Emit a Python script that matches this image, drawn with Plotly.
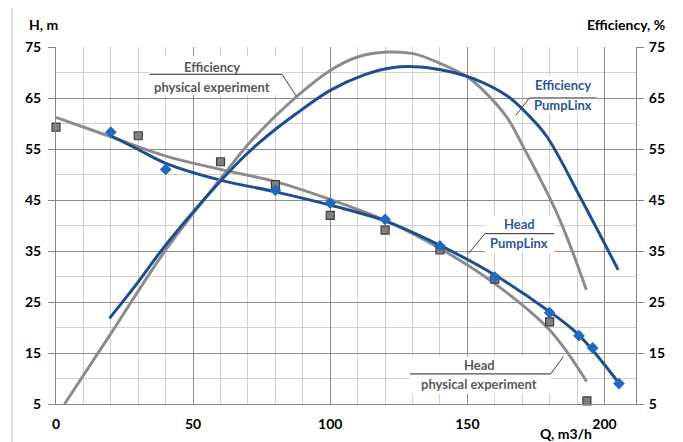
import plotly.graph_objects as go

# ---------------- data ----------------
# Head, physical experiment (markers)
q_head_exp = [0, 30, 60, 80, 100, 120, 140, 160, 180, 193.6]
h_head_exp = [59.3, 57.6, 52.5, 48.0, 42.0, 39.1, 35.2, 29.5, 21.1, 5.6]
# Head, PumpLinx (markers)
q_head_pl = [20, 40, 80, 100, 120, 140, 160, 180, 190.7, 195.7, 205.3]
h_head_pl = [58.3, 51.0, 46.9, 44.4, 41.2, 36.0, 29.9, 22.9, 18.4, 16.0, 9.0]

# Head trend lines
q_head_exp_fit = [0, 20, 40, 60, 80, 100, 120, 140, 160, 180, 193.5]
h_head_exp_fit = [61.2, 57.4, 53.6, 51.0, 48.6, 45.1, 41.0, 35.5, 28.6, 19.5, 9.4]
q_head_pl_fit = [20, 30, 40, 60, 80, 100, 120, 140, 160, 180, 190.7, 205.3]
h_head_pl_fit = [57.6, 54.9, 52.2, 48.9, 46.6, 44.0, 40.9, 36.1, 30.3, 23.1, 18.5, 9.05]

# Efficiency trend lines (right axis)
q_eff_exp = [3.1, 20, 40, 60.5, 71.4, 87.8, 100, 109.7, 120.6, 130.3, 140, 149.8,
             155.8, 164.3, 171, 179.5, 183.8, 188.6, 193.4]
e_eff_exp = [5, 18.8, 35.2, 49.5, 56.7, 65.3, 70.4, 73.0, 74.0, 73.7, 71.8, 69.2,
             66.5, 61.3, 54.8, 46.0, 41.0, 34.5, 27.4]
q_eff_pl = [19.5, 29.5, 38.6, 53.8, 67.2, 75.1, 87.8, 100, 112.1, 123, 132.8, 142.5,
            152.2, 164.3, 171.6, 178.9, 191.7, 205]
e_eff_pl = [21.8, 28.6, 35.2, 45.0, 52.8, 56.7, 62.0, 66.5, 69.5, 71.0, 71.1, 70.3,
            68.8, 65.5, 62.0, 57.5, 45.0, 31.3]

x_ticks = [0, 50, 100, 150, 200]
y_ticks = [5, 15, 25, 35, 45, 55, 65, 75]

GRAY_LINE = "#8C8C8C"
BLUE_LINE = "#1F4E8F"
GRAY_TXT = "#595959"
BLUE_TXT = "#2F5597"
FONT = "Lato"

fig = go.Figure()

fig.add_trace(go.Scatter(x=q_head_exp_fit, y=h_head_exp_fit, mode="lines",
                         line=dict(color=GRAY_LINE, width=3, shape="spline"),
                         hoverinfo="skip", showlegend=False))
fig.add_trace(go.Scatter(x=q_eff_exp, y=e_eff_exp, mode="lines", yaxis="y2",
                         line=dict(color=GRAY_LINE, width=3, shape="spline"),
                         hoverinfo="skip", showlegend=False))
fig.add_trace(go.Scatter(x=q_head_pl_fit, y=h_head_pl_fit, mode="lines",
                         line=dict(color=BLUE_LINE, width=3, shape="spline"),
                         hoverinfo="skip", showlegend=False))
fig.add_trace(go.Scatter(x=q_eff_pl, y=e_eff_pl, mode="lines", yaxis="y2",
                         line=dict(color=BLUE_LINE, width=3, shape="spline"),
                         hoverinfo="skip", showlegend=False))
fig.add_trace(go.Scatter(x=q_head_exp, y=h_head_exp, mode="markers", cliponaxis=False,
                         marker=dict(symbol="square", size=8, color="#7F7F7F",
                                     line=dict(color="#3F3F3F", width=1.2)),
                         showlegend=False))
fig.add_trace(go.Scatter(x=q_head_pl, y=h_head_pl, mode="markers", cliponaxis=False,
                         marker=dict(symbol="diamond", size=9, color="#1F6BBF",
                                     line=dict(width=0)),
                         showlegend=False))

# ---------------- labels ----------------
labels = [
    dict(t1="Efficiency", t2="physical experiment", c=GRAY_TXT, x=56.9, y1=71.1, y2=67.2,
         bx=(34.0, 82.4), by=(65.6, 73.2), ux=(34.1, 82.4), uy=69.65, lx=87.5, ly=65.5, right=True),
    dict(t1="Efficiency", t2="PumpLinx", c=BLUE_TXT, x=185.0, y1=67.5, y2=63.6,
         bx=(172.6, 197.2), by=(61.9, 69.2), ux=(172.6, 197.2), uy=65.0, lx=167.7, ly=61.6, right=False),
    dict(t1="Head", t2="PumpLinx", c=BLUE_TXT, x=169.0, y1=40.2, y2=36.5,
         bx=(156.4, 181.7), by=(34.8, 41.9), ux=(156.4, 181.7), uy=38.4, lx=150.4, ly=34.5, right=False),
    dict(t1="Head", t2="physical experiment", c=GRAY_TXT, x=154.4, y1=12.6, y2=8.85,
         bx=(129.1, 180.4), by=(7.0, 14.3), ux=(129.1, 180.4), uy=10.9, lx=185.0, ly=14.3, right=True),
]

shapes = []
annotations = []
for lb in labels:
    shapes.append(dict(type="rect", xref="x", yref="y", layer="between",
                       x0=lb["bx"][0], x1=lb["bx"][1], y0=lb["by"][0], y1=lb["by"][1],
                       fillcolor="white", line=dict(width=0)))
    shapes.append(dict(type="line", xref="x", yref="y", layer="above",
                       x0=lb["ux"][0], x1=lb["ux"][1], y0=lb["uy"], y1=lb["uy"],
                       line=dict(color="#262626", width=1)))
    sx = lb["ux"][1] if lb["right"] else lb["ux"][0]
    shapes.append(dict(type="line", xref="x", yref="y", layer="above",
                       x0=sx, x1=lb["lx"], y0=lb["uy"], y1=lb["ly"],
                       line=dict(color="#404040", width=1)))
    for txt, yy in ((lb["t1"], lb["y1"]), (lb["t2"], lb["y2"])):
        annotations.append(dict(text="<b>" + txt + "</b>", x=lb["x"], y=yy, xref="x", yref="y",
                                showarrow=False, xanchor="center", yanchor="middle",
                                font=dict(family=FONT, size=13, color=lb["c"])))

# outer chart frame
shapes.append(dict(type="rect", xref="paper", yref="paper", layer="above",
                   x0=-0.0759, x1=1.074, y0=-0.12, y1=1.112,
                   line=dict(color="#BFBFBF", width=1)))

# axis titles
annotations.append(dict(text="<b>H, m</b>", xref="paper", yref="paper", x=-0.0207, y=1.063,
                        xanchor="center", yanchor="middle", showarrow=False,
                        font=dict(family=FONT, size=14, color="black")))
annotations.append(dict(text="<b>Efficiency, %</b>", xref="paper", yref="paper", x=1.0534, y=1.063,
                        xanchor="right", yanchor="middle", showarrow=False,
                        font=dict(family=FONT, size=14, color="black")))
annotations.append(dict(text="<b>Q, m3/h</b>", xref="paper", yref="paper", x=0.9276, y=-0.082,
                        xanchor="right", yanchor="middle", showarrow=False,
                        font=dict(family=FONT, size=14, color="black")))

tickfont = dict(family=FONT, size=14, color="black", weight="bold")

# the page body adds an 8 px offset, so the figure is 8 px smaller and margins shifted
fig.update_layout(
    width=675, height=434,
    margin=dict(l=48, r=47, t=39, b=38, autoexpand=False),
    paper_bgcolor="white", plot_bgcolor="white",
    showlegend=False,
    shapes=shapes, annotations=annotations,
    xaxis=dict(range=[0, 211.5], tickmode="array", tickvals=x_ticks,
               ticktext=[str(v) for v in x_ticks], tickfont=tickfont,
               showgrid=True, gridcolor="#8C8C8C", gridwidth=1,
               minor=dict(tickmode="array", tickvals=list(range(10, 201, 10)),
                          showgrid=True, gridcolor="#D0D0D0", gridwidth=1, ticks=""),
               showline=True, linecolor="#868686", linewidth=1, automargin=False,
               ticks="", ticklabelstandoff=7, zeroline=False, fixedrange=True),
    yaxis=dict(range=[5, 75], tickmode="array", tickvals=y_ticks, tickfont=tickfont,
               showgrid=True, gridcolor="#8C8C8C", gridwidth=1,
               minor=dict(tickmode="linear", tick0=5, dtick=5, showgrid=True,
                          gridcolor="#D0D0D0", gridwidth=1, ticks=""),
               showline=True, linecolor="#868686", linewidth=1, automargin=False,
               ticks="outside", ticklen=7, tickcolor="#868686",
               ticklabelstandoff=4, zeroline=False, fixedrange=True),
    yaxis2=dict(range=[5, 75], tickmode="array", tickvals=y_ticks, tickfont=tickfont,
                overlaying="y", side="right", showgrid=False,
                showline=True, linecolor="#868686", linewidth=1, automargin=False,
                ticks="outside", ticklen=7, tickcolor="#868686",
                ticklabelstandoff=2, zeroline=False, fixedrange=True),
)

fig.write_html("out.html")
